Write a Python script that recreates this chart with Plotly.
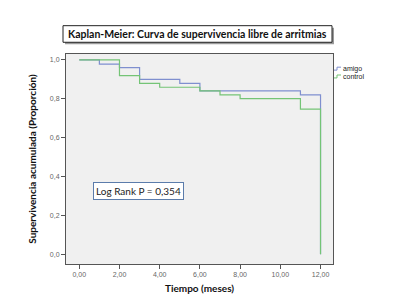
import plotly.graph_objects as go

# Data (step times in months, survival proportion)
t_amigo = [0, 1, 2, 3, 5, 6, 11, 12, 12]
s_amigo = [1.0, 0.978, 0.96, 0.899, 0.879, 0.84, 0.82, 0.82, 0.0]
t_control = [0, 2, 3, 4, 6, 7, 8, 11, 12, 12]
s_control = [1.0, 0.919, 0.879, 0.859, 0.84, 0.82, 0.80, 0.746, 0.746, 0.0]
series_names = ["amigo", "control"]
series_colors = ["#7f8fcf", "#74c476"]

x_ticks = [0, 2, 4, 6, 8, 10, 12]
x_ticklabels = ["0,00", "2,00", "4,00", "6,00", "8,00", "10,00", "12,00"]
y_ticks = [0.0, 0.2, 0.4, 0.6, 0.8, 1.0]
y_ticklabels = ["0,0", "0,2", "0,4", "0,6", "0,8", "1,0"]

title_text = "Kaplan-Meier: Curva de supervivencia libre de arritmias"
logrank_text = "Log Rank P = 0,354"

fig = go.Figure()
fig.add_trace(go.Scatter(x=t_amigo, y=s_amigo, mode="lines", name=series_names[0],
                         line=dict(color=series_colors[0], width=1.2, shape="hv")))
fig.add_trace(go.Scatter(x=t_control, y=s_control, mode="lines", name=series_names[1],
                         line=dict(color=series_colors[1], width=1.2, shape="hv")))

# target plot-area position in the page (pixels), page body has 8px margin
L, R, T, B = 66, 333, 54, 269
OFF = 8
W, H = 404 - OFF, 304 - OFF

def px(xp):
    return (xp - L) / (R - L)

def py(yp):
    return (B - yp) / (B - T)

shapes = [
    # title box shadow
    dict(type="rect", xref="paper", yref="paper", x0=px(65), x1=px(334), y0=py(44), y1=py(27),
         line=dict(width=0), fillcolor="#9a9a9a", layer="above"),
    dict(type="rect", xref="paper", yref="paper", x0=px(63), x1=px(332), y0=py(42), y1=py(25),
         line=dict(color="#222222", width=1), fillcolor="white", layer="above"),
]

annotations = [
    dict(text="<b>" + title_text + "</b>", xref="paper", yref="paper",
         x=(px(63) + px(332)) / 2, y=(py(42) + py(25)) / 2, xanchor="center", yanchor="middle",
         showarrow=False, font=dict(family="Lato, Open Sans, sans-serif", size=10.5, color="#111111")),
    dict(text=logrank_text, xref="paper", yref="paper",
         x=px(138), y=py(194.5), xanchor="center", yanchor="middle", showarrow=False,
         font=dict(family="Lato, Open Sans, sans-serif", size=10, color="#222222"),
         bgcolor="white", bordercolor="#5b7cab", borderwidth=1, borderpad=2),
]

# custom legend (step icons + labels)
for i, (name, col) in enumerate(zip(series_names, series_colors)):
    yc = 69 + 8 * i
    x0, xm, x1 = px(334), px(337), px(341)
    ylo, yhi = py(yc + 1.5), py(yc - 1.5)
    shapes.append(dict(type="path", xref="paper", yref="paper",
                       path=f"M {x0} {ylo} L {xm} {ylo} L {xm} {yhi} L {x1} {yhi}",
                       line=dict(color=col, width=1)))
    annotations.append(dict(text=name, xref="paper", yref="paper", x=px(341), y=py(yc),
                            xanchor="left", yanchor="middle", showarrow=False,
                            font=dict(family="Arial, Liberation Sans, sans-serif", size=7, color="#222222")))

fig.update_layout(
    width=W, height=H,
    margin=dict(l=L - OFF, r=W - (R - OFF), t=T - OFF, b=H - (B - OFF)),
    paper_bgcolor="white", plot_bgcolor="#f0f0f0",
    shapes=shapes, annotations=annotations,
    showlegend=False,
    xaxis=dict(range=[-0.66, 12.62], tickvals=x_ticks, ticktext=x_ticklabels,
               showgrid=False, zeroline=False, showline=True, linecolor="#555555", mirror=True,
               ticks="outside", ticklen=4, tickcolor="#555555",
               tickfont=dict(family="Arial, Liberation Sans, sans-serif", size=7, color="#666666"),
               title=dict(text="<b>Tiempo (meses)</b>", standoff=7,
                          font=dict(family="Lato, Open Sans, sans-serif", size=10, color="#111111"))),
    yaxis=dict(range=[-0.05, 1.03], tickvals=y_ticks, ticktext=y_ticklabels,
               showgrid=False, zeroline=False, showline=True, linecolor="#555555", mirror=True,
               ticks="outside", ticklen=4, tickcolor="#555555",
               tickfont=dict(family="Arial, Liberation Sans, sans-serif", size=7, color="#666666"),
               title=dict(text="<b>Supervivencia acumulada (Proporción)</b>", standoff=11,
                          font=dict(family="Lato, Open Sans, sans-serif", size=10, color="#111111"))),
)

fig.write_html("out.html")
